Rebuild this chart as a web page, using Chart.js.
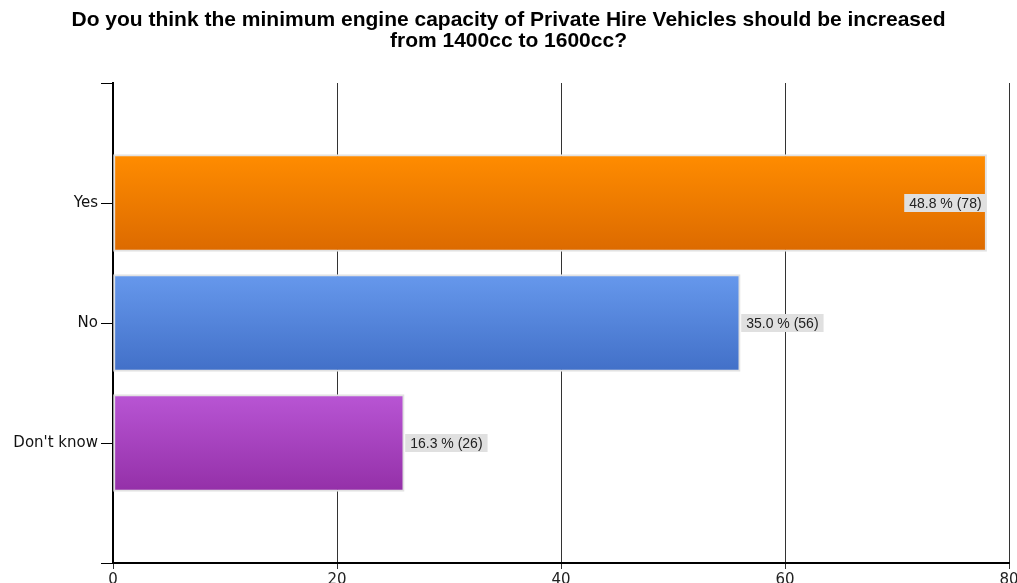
<!DOCTYPE html>
<html>
<head>
<meta charset="utf-8">
<script src="https://cdn.jsdelivr.net/npm/chart.js@4/dist/chart.umd.min.js"></script>
<style>
  html, body { margin: 0; padding: 0; background: #fff; overflow: hidden; }
</style>
</head>
<body>
<canvas id="chart" width="1017" height="600"></canvas>
<script>
const categories = ['Yes', 'No', "Don't know"];
const counts = [78, 56, 26];
const percents = [48.8, 35.0, 16.3];
const xTicks = [0, 20, 40, 60, 80];

// top / bottom colours of each bar's gradient
const topColors = ['#ff8c00', '#6698ec', '#b855d4'];
const bottomColors = ['#dc6a00', '#4270c8', '#9430a8'];

// empty slots above and below so the bars sit between the boundary ticks
const labels = [''].concat(categories, ['']);
const values = [null].concat(counts, [null]);

function barFill(ctx) {
    const i = ctx.dataIndex - 1;
    const y = ctx.chart.scales.y;
    if (i < 0 || i >= categories.length) return '#fff';
    if (!y || y.top === undefined) return topColors[i];
    const c = y.getPixelForValue(ctx.dataIndex);
    const g = ctx.chart.ctx.createLinearGradient(0, c - 48, 0, c + 48);
    g.addColorStop(0, topColors[i]);
    g.addColorStop(1, bottomColors[i]);
    return g;
}

const valueLabels = {
    id: 'valueLabels',
    afterDatasetsDraw(chart) {
        const ctx = chart.ctx;
        const area = chart.chartArea;
        const meta = chart.getDatasetMeta(0);
        ctx.save();
        ctx.font = '14px "Liberation Sans", Arial, sans-serif';
        ctx.textBaseline = 'middle';
        ctx.textAlign = 'left';
        meta.data.forEach((bar, idx) => {
            const i = idx - 1;
            if (i < 0 || i >= categories.length) return;
            const text = percents[i].toFixed(1) + ' % (' + counts[i] + ')';
            const w = ctx.measureText(text).width + 10;
            const h = 18;
            let x0 = bar.x + 1;
            if (x0 + w > area.right) x0 = bar.x - w;
            ctx.fillStyle = '#e0e0e0';
            ctx.fillRect(x0, bar.y - h / 2, w, h);
            ctx.fillStyle = '#222';
            ctx.fillText(text, x0 + 5, bar.y + 1);
        });
        ctx.restore();
    }
};

new Chart(document.getElementById('chart'), {
    type: 'bar',
    data: {
        labels: labels,
        datasets: [{
            data: values,
            backgroundColor: barFill,
            borderColor: '#e2e2e2',
            borderWidth: 2,
            borderSkipped: false,
            barThickness: 97
        }]
    },
    options: {
        indexAxis: 'y',
        responsive: false,
        animation: false,
        layout: { padding: 0 },
        plugins: {
            legend: { display: false },
            tooltip: { enabled: false },
            title: {
                display: true,
                text: ['Do you think the minimum engine capacity of Private Hire Vehicles should be increased',
                       'from 1400cc to 1600cc?'],
                color: '#000',
                font: { family: '"Liberation Sans", Arial, sans-serif', size: 21, weight: 'bold', lineHeight: 1.0 },
                padding: { top: 10, bottom: 31 }
            }
        },
        scales: {
            x: {
                min: 0,
                max: 80,
                afterBuildTicks: (scale) => { scale.ticks = xTicks.map(v => ({ value: v })); },
                afterFit: (scale) => { scale.height = 37; scale.paddingRight = 8; },
                border: { display: true, color: '#000', width: 2 },
                grid: { color: '#333', lineWidth: 1, tickLength: 6 },
                ticks: {
                    color: '#222',
                    padding: 2,
                    font: { family: '"DejaVu Sans", sans-serif', size: 15 }
                }
            },
            y: {
                offset: false,
                afterFit: (scale) => { scale.width = 113; },
                border: { display: true, color: '#000', width: 2 },
                grid: { offset: false, drawOnChartArea: false, color: '#000', tickLength: 12 },
                ticks: {
                    color: '#111',
                    padding: 3,
                    font: { family: '"DejaVu Sans", sans-serif', size: 15 }
                }
            }
        }
    },
    plugins: [valueLabels]
});
</script>
</body>
</html>
